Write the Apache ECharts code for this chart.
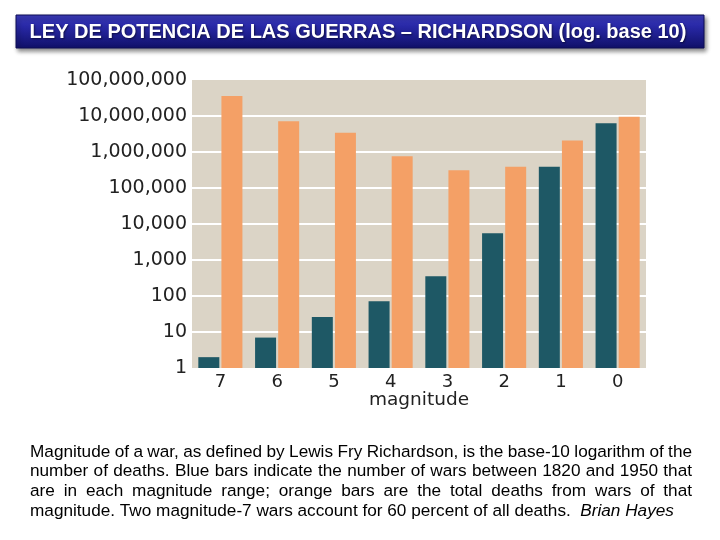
<!DOCTYPE html>
<html>
<head>
<meta charset="utf-8">
<script src="https://cdn.jsdelivr.net/npm/echarts@6/dist/echarts.min.js"></script>
<style>
html,body{margin:0;padding:0;background:#fff;}
#chart{width:720px;height:540px;}
</style>
</head>
<body>
<div id="chart"></div>
<script>
const titleText = 'LEY DE POTENCIA DE LAS GUERRAS \u2013 RICHARDSON (log. base 10)';
const categories = ['7', '6', '5', '4', '3', '2', '1', '0'];
const warCounts = [2, 7, 26, 72, 355, 5500, 390000, 6300000];
const totalDeaths = [36000000, 7100000, 3400000, 760000, 310000, 390000, 2100000, 9500000];
const xAxisName = 'magnitude';
const captionLines = [
  'Magnitude of a war, as defined by Lewis Fry Richardson, is the base-10 logarithm of the',
  'number of deaths. Blue bars indicate the number of wars between 1820 and 1950 that',
  'are in each magnitude range; orange bars are the total deaths from wars of that',
  'magnitude. Two magnitude-7 wars account for 60 percent of all deaths.'
];
const captionAuthor = 'Brian Hayes';

function fmt(v) {
  return Math.round(v).toString().replace(/\B(?=(\d{3})+(?!\d))/g, ',');
}

const ctx = document.createElement('canvas').getContext('2d');
function measure(text, font) { ctx.font = font; return ctx.measureText(text).width; }

const capFont = '17.2px "Liberation Sans", Arial, sans-serif';
const capX0 = 30, capX1 = 692, capY0 = 452, capLH = 19.7;
const graphics = [];

// title box
graphics.push({
  type: 'rect',
  shape: { x: 16, y: 15, width: 688, height: 33 },
  style: {
    fill: new echarts.graphic.LinearGradient(0, 0, 0, 1, [
      { offset: 0, color: '#3d3dbb' },
      { offset: 0.35, color: '#2828a6' },
      { offset: 1, color: '#101068' }
    ]),
    stroke: '#0d0d55', lineWidth: 1,
    shadowColor: 'rgba(0,0,0,0.45)', shadowBlur: 4, shadowOffsetX: 2, shadowOffsetY: 3
  }
});
graphics.push({
  type: 'text',
  x: 358, y: 32,
  style: {
    text: titleText, fill: '#ffffff',
    font: 'bold 20px "Liberation Sans", Arial, sans-serif',
    align: 'center', verticalAlign: 'middle',
    textShadowColor: 'rgba(0,0,0,0.5)', textShadowBlur: 2, textShadowOffsetX: 1, textShadowOffsetY: 1
  }
});

// caption: justified lines
captionLines.forEach(function (line, i) {
  const y = capY0 + i * capLH;
  const words = line.split(' ');
  const widths = words.map(w => measure(w, capFont));
  const total = widths.reduce((a, b) => a + b, 0);
  const last = i === captionLines.length - 1;
  const gap = last ? measure(' ', capFont) : (capX1 - capX0 - total) / (words.length - 1);
  let x = capX0;
  words.forEach(function (w, j) {
    graphics.push({
      type: 'text', x: x, y: y,
      style: { text: w, font: capFont, fill: '#000', align: 'left', verticalAlign: 'middle' }
    });
    x += widths[j] + gap;
  });
  if (last) {
    graphics.push({
      type: 'text', x: x + measure(' ', capFont), y: y,
      style: { text: captionAuthor, font: 'italic ' + capFont, fill: '#000', align: 'left', verticalAlign: 'middle' }
    });
  }
});

const chart = echarts.init(document.getElementById('chart'), null, { renderer: 'canvas' });
chart.setOption({
  animation: false,
  backgroundColor: '#ffffff',
  grid: {
    left: 192, right: 74, top: 80, bottom: 172,
    show: true, backgroundColor: '#dbd4c6', borderWidth: 0, containLabel: false
  },
  xAxis: {
    type: 'category',
    data: categories,
    axisLine: { show: false },
    axisTick: { show: false },
    axisLabel: { fontSize: 18, color: '#222', margin: 5, fontFamily: '"DejaVu Sans", Arial, sans-serif' },
    name: xAxisName,
    nameLocation: 'middle',
    nameGap: 23,
    nameMoveOverlap: false,
    nameTextStyle: { fontSize: 18.5, color: '#222', fontFamily: '"DejaVu Sans", Arial, sans-serif' }
  },
  yAxis: {
    type: 'log',
    logBase: 10,
    min: 1,
    max: 100000000,
    axisLine: { show: false },
    axisTick: { show: false },
    axisLabel: {
      fontSize: 19, color: '#222', margin: 5,
      fontFamily: '"DejaVu Sans", Arial, sans-serif',
      formatter: v => fmt(v)
    },
    splitLine: { show: true, showMinLine: false, showMaxLine: false, lineStyle: { color: '#ffffff', width: 2 } }
  },
  series: [
    {
      type: 'bar', data: warCounts, barWidth: 21, barGap: '10%',
      itemStyle: { color: '#1e5865' }
    },
    {
      type: 'bar', data: totalDeaths, barWidth: 21, barGap: '10%',
      itemStyle: { color: '#f4a066' }
    }
  ],
  graphic: graphics
});
</script>
</body>
</html>
